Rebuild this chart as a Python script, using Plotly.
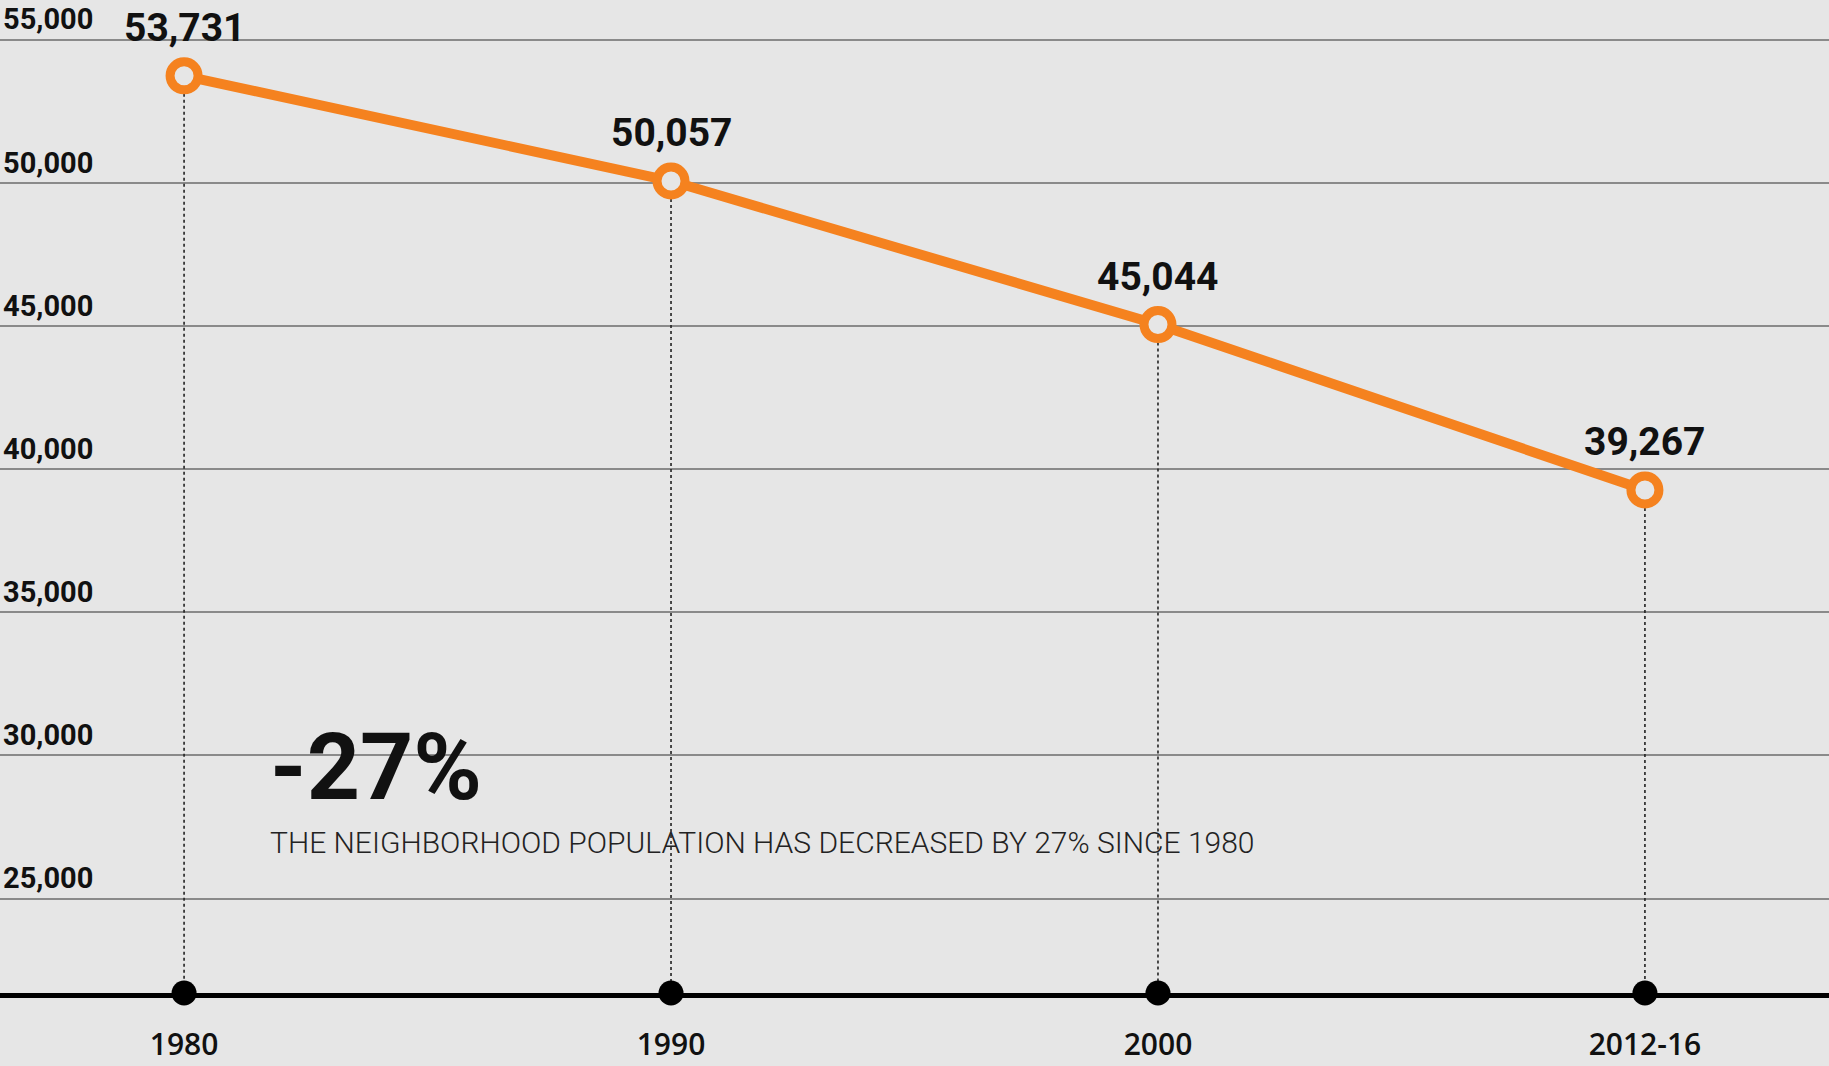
import plotly.graph_objects as go

# ---- data ----
periods = ["1980", "1990", "2000", "2012-16"]
population = [53731, 50057, 45044, 39267]
value_labels = ["53,731", "50,057", "45,044", "39,267"]
y_ticks = [25000, 30000, 35000, 40000, 45000, 50000, 55000]
y_tick_labels = ["25,000", "30,000", "35,000", "40,000", "45,000", "50,000", "55,000"]
change_pct = "-27%"
change_text = "THE NEIGHBORHOOD POPULATION HAS DECREASED BY 27% SINCE 1980"

Y_MIN, Y_MAX = 21700, 56100
BG = "#e6e6e6"
ORANGE = "#f5821f"
TOP = 8
BOTTOM = 73
H = 1066 - TOP - BOTTOM  # plot-area height in px

fig = go.Figure()

idx = list(range(len(periods)))

# dotted drop lines from each point to the baseline
dx, dy = [], []
for i, v in zip(idx, population):
    dx += [i, i, None]
    dy += [v, Y_MIN, None]
fig.add_trace(go.Scatter(x=dx, y=dy, mode="lines",
                         line=dict(color="#222222", width=1.6, dash="dot"),
                         hoverinfo="skip", showlegend=False))

# baseline dots
fig.add_trace(go.Scatter(x=idx, y=[Y_MIN] * len(periods), mode="markers",
                         marker=dict(color="#000000", size=25),
                         cliponaxis=False, hoverinfo="skip", showlegend=False))

# main line
fig.add_trace(go.Scatter(x=idx, y=population, mode="lines+markers",
                         line=dict(color=ORANGE, width=10),
                         marker=dict(symbol="circle", size=28, color=BG,
                                     line=dict(color=ORANGE, width=9)),
                         cliponaxis=False, showlegend=False))

for i, v, t in zip(idx, population, value_labels):
    fig.add_annotation(x=i, y=v, text=t, showarrow=False, yshift=48,
                       font=dict(family="Roboto", size=39, color="#111111", weight=700))

fig.add_annotation(x=0, xref="paper", xanchor="left", xshift=268,
                   y=1 - (767 - TOP) / H, yref="paper", yanchor="middle",
                   text=change_pct, showarrow=False,
                   font=dict(family="Roboto", size=93, color="#111111", weight=700))
fig.add_annotation(x=0, xref="paper", xanchor="left", xshift=268,
                   y=1 - (842 - TOP) / H, yref="paper", yanchor="middle",
                   text=change_text, showarrow=False,
                   font=dict(family="Roboto", size=30, color="#222222", weight=300))

fig.update_layout(
    width=1829, height=1066,
    margin=dict(l=0, r=0, t=TOP, b=BOTTOM),
    paper_bgcolor=BG, plot_bgcolor=BG,
    xaxis=dict(range=[-0.378, 3.378], tickvals=idx, ticktext=periods,
               showgrid=False, zeroline=False, automargin=False,
               showline=True, linecolor="#000000", linewidth=5,
               ticks="", ticklabelstandoff=21,
               tickfont=dict(family="Open Sans", size=30, color="#111111", weight=600)),
    yaxis=dict(range=[Y_MIN, Y_MAX], tickvals=y_ticks, ticktext=y_tick_labels,
               showgrid=True, gridcolor="#8a8a8a", gridwidth=1.5,
               zeroline=False, showline=False, ticks="", automargin=False,
               ticklabelposition="inside top", ticklabeloverflow="allow",
               tickfont=dict(family="Roboto", size=29, color="#111111", weight=700)),
)

fig.write_html("out.html", config={"displayModeBar": False},
               post_script="document.body.style.margin='0';")
